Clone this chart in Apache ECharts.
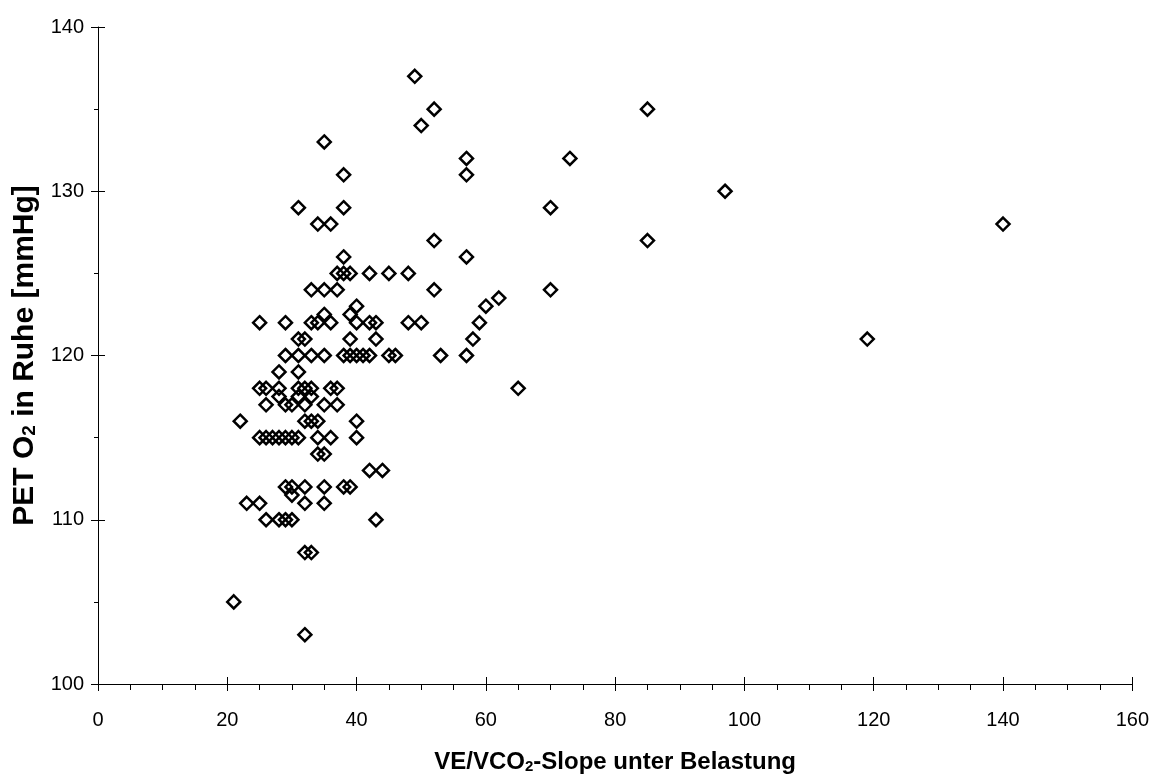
<!DOCTYPE html>
<html>
<head>
<meta charset="utf-8">
<script src="https://cdn.jsdelivr.net/npm/echarts@6/dist/echarts.min.js"></script>
<style>
html,body{margin:0;padding:0;background:#fff;}
#chart{width:1152px;height:779px;}
</style>
</head>
<body>
<div id="chart"></div>
<script>
// VE/VCO2-Slope values (x) and PET O2 values (y), paired by index
var slopeValues = [
  21, 22, 23,
  25, 25, 25, 25,
  26, 26, 26, 26,
  27,
  28, 28, 28, 28, 28,
  29, 29, 29, 29, 29, 29,
  30, 30, 30, 30, 30,
  31, 31, 31, 31, 31, 31, 31,
  32, 32, 32, 32, 32, 32, 32, 32,
  33, 33, 33, 33, 33, 33, 33,
  34, 34, 34, 34, 34,
  35, 35, 35, 35, 35, 35, 35, 35,
  36, 36, 36, 36,
  37, 37, 37, 37,
  38, 38, 38, 38, 38, 38,
  39, 39, 39, 39, 39,
  40, 40, 40, 40, 40,
  41,
  42, 42, 42, 42,
  43, 43, 43,
  44,
  45, 45,
  46,
  48, 48,
  49,
  50, 50,
  52, 52, 52,
  53,
  57, 57, 57, 57,
  58, 59, 60, 62, 65,
  70, 70,
  73,
  85, 85,
  97, 119, 140
];
var petO2Values = [
  105, 116, 111,
  122, 118, 115, 111,
  118, 117, 115, 110,
  115,
  119, 118, 117.5, 115, 110,
  122, 120, 117, 115, 112, 110,
  117, 115, 112, 111.5, 110,
  129, 121, 120, 119, 118, 117.5, 115,
  121, 118, 117, 116, 112, 111, 108, 103,
  124, 122, 120, 118, 117.5, 116, 108,
  128, 122, 116, 115, 114,
  133, 124, 122.5, 120, 117, 114, 112, 111,
  128, 122, 118, 115,
  125, 124, 118, 117,
  131, 129, 126, 125, 120, 112,
  125, 122.5, 121, 120, 112,
  123, 122, 120, 116, 115,
  120,
  125, 122, 120, 113,
  122, 121, 110,
  113,
  125, 120,
  120,
  125, 122,
  137,
  134, 122,
  135, 127, 124,
  120,
  132, 131, 126, 120,
  121, 122, 123, 123.5, 118,
  129, 124,
  132,
  135, 127,
  130, 121, 128
];
var xMin = 0, xMax = 160, xStep = 20;
var yMin = 100, yMax = 140, yStep = 10;
var xTitle = '{b|VE/VCO}{s|2}{b|-Slope unter Belastung}';
var yTitle = '{b|PET O}{s|2}{b| in Ruhe [mmHg]}';

var points = slopeValues.map(function (x, i) { return [x, petO2Values[i]]; });

var FONT = '"Liberation Sans", Arial, sans-serif';
var chart = echarts.init(document.getElementById('chart'), null, {renderer: 'canvas'});

var richX = {
  b: {fontFamily: FONT, fontWeight: 'bold', fontSize: 24, color: '#000'},
  s: {fontFamily: FONT, fontWeight: 'bold', fontSize: 15, color: '#000', verticalAlign: 'bottom', padding: [9, 0, 0, 0]}
};
var richY = {
  b: {fontFamily: FONT, fontWeight: 'bold', fontSize: 30, color: '#000'},
  s: {fontFamily: FONT, fontWeight: 'bold', fontSize: 19, color: '#000', verticalAlign: 'bottom', padding: [11, 0, 0, 0]}
};

chart.setOption({
  animation: false,
  backgroundColor: '#fff',
  grid: {left: 98, right: 19, top: 27, bottom: 93, containLabel: false},
  xAxis: [{
    type: 'value', min: xMin, max: xMax, interval: xStep, position: 'bottom',
    axisLine: {show: true, onZero: false, lineStyle: {color: '#000', width: 1}},
    axisTick: {show: true, inside: false, length: 7, lineStyle: {color: '#000'}},
    minorTick: {show: true, splitNumber: 4, length: 6, lineStyle: {color: '#000'}},
    splitLine: {show: false},
    axisLabel: {color: '#000', fontFamily: FONT, fontSize: 20, margin: 26},
    name: xTitle, nameLocation: 'middle', nameGap: 66,
    nameTextStyle: {rich: richX}
  }, {
    type: 'value', min: xMin, max: xMax, interval: xStep, position: 'bottom',
    axisLine: {show: false},
    axisTick: {show: true, inside: true, length: 7, lineStyle: {color: '#000'}},
    axisLabel: {show: false}, splitLine: {show: false}
  }],
  yAxis: [{
    type: 'value', min: yMin, max: yMax, interval: yStep, position: 'left',
    axisLine: {show: true, onZero: false, lineStyle: {color: '#000', width: 1}},
    axisTick: {show: true, inside: false, length: 7, lineStyle: {color: '#000'}},
    minorTick: {show: true, splitNumber: 2, length: 4, lineStyle: {color: '#000'}},
    splitLine: {show: false},
    axisLabel: {color: '#000', fontFamily: FONT, fontSize: 20, margin: 14},
    name: yTitle, nameLocation: 'middle', nameGap: 52, nameRotate: 90,
    nameTextStyle: {rich: richY}
  }, {
    type: 'value', min: yMin, max: yMax, interval: yStep, position: 'left',
    axisLine: {show: false},
    axisTick: {show: true, inside: true, length: 7, lineStyle: {color: '#000'}},
    axisLabel: {show: false}, splitLine: {show: false}
  }],
  series: [{
    type: 'scatter',
    xAxisIndex: 0, yAxisIndex: 0,
    data: points,
    symbol: 'diamond',
    symbolSize: 13,
    itemStyle: {color: 'rgba(255,255,255,0)', borderColor: '#000', borderWidth: 2.5, opacity: 1}
  }]
});
</script>
</body>
</html>
